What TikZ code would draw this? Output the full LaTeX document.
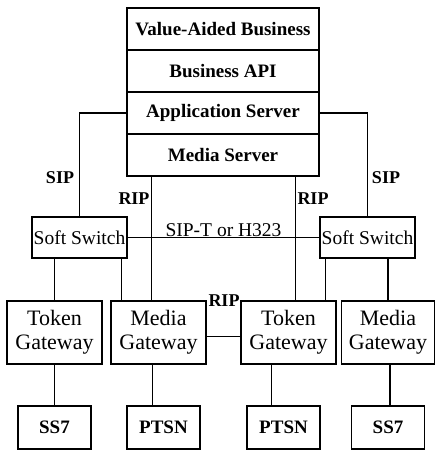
\documentclass[tikz,border=0pt]{standalone}
\usepackage{fontspec}
\setmainfont{Liberation Serif}
\usetikzlibrary{positioning}

\begin{document}
\begin{tikzpicture}[x=1pt,y=-1pt,-,line width=1.2pt,node distance=95pt,
    layer node/.style={rectangle,draw,minimum width=192pt,minimum height=42pt,inner sep=0pt,font=\fontsize{19}{22}\selectfont\bfseries},
    switch node/.style={rectangle,draw,minimum width=95pt,minimum height=41pt,inner sep=0pt,font=\fontsize{19.5}{22}\selectfont},
    gate node/.style={rectangle,draw,minimum width=95pt,minimum height=63pt,inner sep=0pt,align=center,font=\fontsize{22}{24}\selectfont},
    net node/.style={rectangle,draw,minimum width=73pt,minimum height=43pt,inner sep=0pt,font=\fontsize{19}{22}\selectfont\bfseries},
    tag/.style={inner sep=1pt,font=\fontsize{18}{20}\selectfont\bfseries}]

                \useasboundingbox (0,0) rectangle (435,450);

                \node[layer node]  (vab) at (223,29) {Value-Aided Business};
                \node[layer node]  (api) at (223,71) {Business API};
                \node[layer node]  (as)  at (223,113) {Application Server};
                \node[layer node]  (ms)  at (223,155) {Media Server};

                \node[switch node] (ssL) at (79.5,237.5) {Soft Switch};
                \node[switch node] (ssR) at (367.5,237.5) {Soft Switch};

                \node[gate node]   (tgL) at (54.5,332.5) {Token\\Gateway};
                \node[gate node]   (mgL) at (158.5,332.5) {Media\\Gateway};
                \node[gate node]   (tgR) at (288.5,332.5) {Token\\Gateway};
                \node[gate node, minimum width=93pt]   (mgR) at (388,332.5) {Media\\Gateway};

                \node[net node]    (ss7L) [below of = tgL] {SS7};
                \node[net node]    (ptL)  [below of = mgL, xshift=5pt] {PTSN};
                \node[net node]    (ptR)  [below of = tgR, xshift=-5pt] {PTSN};
                \node[net node]    (ss7R) [below of = mgR] {SS7};

                \draw[-] (as.west) -| (ssL);
                \draw[-] (as.east) -| (ssR);
                \draw[-] (ssL.east) to node[above=-1pt, inner sep=1pt, font=\fontsize{19.5}{22}\selectfont] {SIP-T or H323} (ssR.west);
                \draw[-] ([xshift=25pt]ms.south west) to ([xshift=25pt]ms.south west |- mgL.north);
                \draw[-] ([xshift=-24pt]ms.south east) to ([xshift=-24pt]ms.south east |- tgR.north);
                \draw[-] (tgL.north) to (tgL.north |- ssL.south);
                \draw[-] ([xshift=-6pt]ssL.south east) to ([xshift=-6pt]ssL.south east |- mgL.north);
                \draw[-] ([xshift=6pt]ssR.south west) to ([xshift=6pt]ssR.south west |- tgR.north);
                \draw[-] (mgR.north) to (mgR.north |- ssR.south);
                \draw[-] ([yshift=-4pt]mgL.east) to ([yshift=-4pt]tgR.west);
                \draw[-] (tgL.south) to (ss7L.north);
                \draw[-] ([xshift=-6pt]mgL.south) to ([xshift=-6pt]mgL.south |- ptL.north);
                \draw[-] ([xshift=-17pt]tgR.south) to ([xshift=-17pt]tgR.south |- ptR.north);
                \draw[-] ([xshift=2pt]mgR.south) to ([xshift=2pt]mgR.south |- ss7R.north);

                \node[tag] (sipL) at (60,178) {SIP};
                \node[tag] (sipR) at (386,178) {SIP};
                \node[tag] (ripL) at (134,199) {RIP};
                \node[tag] (ripR) at (313,199) {RIP};
                \node[tag] (ripM) at (224,301) {RIP};

                ;
            \end{tikzpicture}
\end{document}
